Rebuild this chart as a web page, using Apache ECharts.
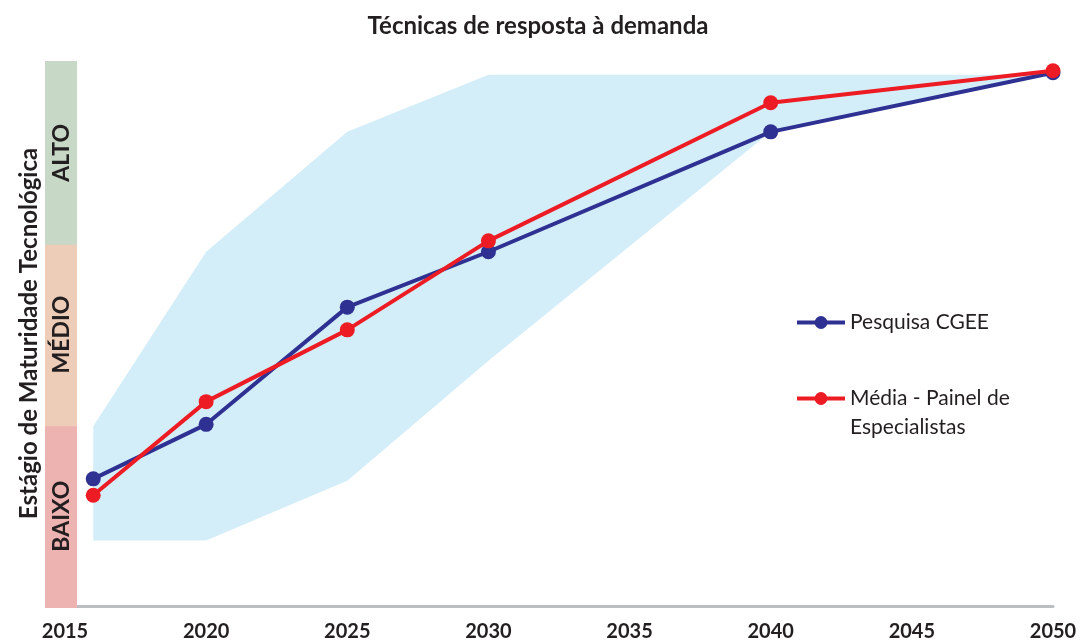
<!DOCTYPE html>
<html>
<head>
<meta charset="utf-8">
<script src="https://cdn.jsdelivr.net/npm/echarts@6/dist/echarts.min.js"></script>
<style>
html,body{margin:0;padding:0;background:#fff;}
#chart{width:1087px;height:642px;}
</style>
</head>
<body>
<div id="chart"></div>
<script>
// ---- data ----
const titleText = 'Técnicas de resposta à demanda';
const yAxisTitle = 'Estágio de Maturidade Tecnológica';
const years = [2016, 2020, 2025, 2030, 2040, 2050];
const cgeeValues = [0.70, 1.00, 1.645, 1.95, 2.61, 2.935];
const painelValues = [0.61, 1.125, 1.52, 2.01, 2.77, 2.946];
const rangeYears = [2016, 2020, 2025, 2030, 2040, 2050];
const rangeUpper = [0.99, 1.95, 2.61, 2.925, 2.925, 2.925];
const rangeLower = [0.36, 0.36, 0.69, 1.35, 2.61, 2.935];
const levelNames = ['BAIXO', 'MÉDIO', 'ALTO'];
const levelStarts = [0, 1, 2];
const levelColors = ['#EDB3B0', '#EDCCB8', '#C7D9C6'];
const seriesNames = ['Pesquisa CGEE', 'Média - Painel de Especialistas'];
const xMin = 2015, xMax = 2050, xStep = 5;

const FONT = 'Lato, "Open Sans", "Noto Sans", sans-serif';
const TXT = '#231F20';

const chart = echarts.init(document.getElementById('chart'), null, {renderer: 'canvas'});

const option = {
  backgroundColor: '#ffffff',
  animation: false,
  title: {
    text: titleText,
    left: 533,
    textAlign: 'center',
    top: 9,
    textStyle: {fontFamily: FONT, fontSize: 24, fontWeight: 'bold', color: TXT}
  },
  grid: {left: 65, right: 34, top: 61, bottom: 36, containLabel: false, outerBoundsMode: 'none'},
  xAxis: {
    type: 'value', min: xMin, max: xMax, interval: xStep,
    axisLine: {show: true, lineStyle: {color: '#BCBEC0', width: 3}},
    axisTick: {show: false},
    splitLine: {show: false},
    axisLabel: {
      fontFamily: '"Liberation Sans Narrow", ' + FONT, fontSize: 20, fontWeight: 'bold', color: TXT,
      margin: 16, formatter: v => String(v)
    }
  },
  yAxis: {
    type: 'value', min: 0, max: 3,
    name: yAxisTitle, nameLocation: 'middle', nameRotate: 90, nameGap: 24,
    nameTextStyle: {fontFamily: FONT, fontSize: 24, fontWeight: 'bold', color: TXT},
    axisLine: {show: false}, axisTick: {show: false}, axisLabel: {show: false}, splitLine: {show: false}
  },
  legend: [
    {
      data: [seriesNames[0]], left: 795, top: 310, selectedMode: false, padding: 0,
      itemWidth: 48, itemHeight: 16, itemGap: 4,
      lineStyle: {width: 4},
      textStyle: {fontFamily: FONT, fontSize: 21, color: TXT, lineHeight: 25}
    },
    {
      data: [seriesNames[1]], left: 795, top: 355, selectedMode: false, padding: 0,
      itemWidth: 48, itemHeight: 16, itemGap: 4,
      lineStyle: {width: 4},
      formatter: () => '\nMédia - Painel de\nEspecialistas',
      textStyle: {fontFamily: FONT, fontSize: 21, color: TXT, lineHeight: 29}
    }
  ],
  series: [
    {
      type: 'custom', name: 'range', z: 1, silent: true,
      data: [[rangeYears[0], rangeUpper[0]]],
      renderItem: function (params, api) {
        const pts = [];
        for (let i = 0; i < rangeYears.length; i++) pts.push(api.coord([rangeYears[i], rangeUpper[i]]));
        for (let i = rangeYears.length - 1; i >= 0; i--) pts.push(api.coord([rangeYears[i], rangeLower[i]]));
        return {type: 'polygon', shape: {points: pts}, style: {fill: '#D4EEF9'}};
      }
    },
    {
      type: 'custom', name: 'levels', z: 5, silent: true, clip: false,
      data: levelStarts.map(v => [xMin, v]),
      renderItem: function (params, api) {
        const i = params.dataIndex;
        const lo = levelStarts[i];
        const yBottom = api.coord([xMin, lo])[1] + 2;
        const yTop = api.coord([xMin, lo + 1])[1];
        const x0 = params.coordSys.x - 20;
        const w = 32;
        return {
          type: 'group',
          children: [
            {type: 'rect', shape: {x: x0, y: yTop, width: w, height: yBottom - yTop}, style: {fill: levelColors[i]}},
            {type: 'text', x: x0 + w / 2 + 1, y: (yTop + yBottom) / 2, rotation: Math.PI / 2,
              style: {text: levelNames[i], align: 'center', verticalAlign: 'middle',
                font: 'bold 23px ' + FONT, fill: TXT}}
          ]
        };
      }
    },
    {
      type: 'line', name: seriesNames[0], z: 3,
      data: years.map((y, i) => [y, cgeeValues[i]]),
      symbol: 'circle', symbolSize: 15,
      lineStyle: {color: '#2E3192', width: 4},
      itemStyle: {color: '#2E3192'}
    },
    {
      type: 'line', name: seriesNames[1], z: 4,
      data: years.map((y, i) => [y, painelValues[i]]),
      symbol: 'circle', symbolSize: 15,
      lineStyle: {color: '#ED1C24', width: 4},
      itemStyle: {color: '#ED1C24'}
    }
  ]
};
chart.setOption(option);
</script>
</body>
</html>
